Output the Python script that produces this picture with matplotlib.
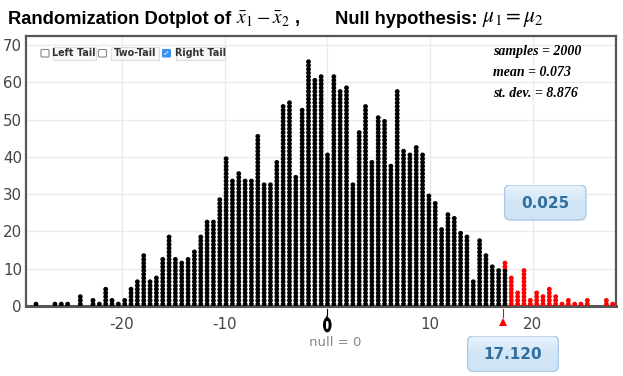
import numpy as np
import matplotlib
matplotlib.use("Agg")
import matplotlib.pyplot as plt
from matplotlib.patches import FancyBboxPatch, Ellipse
from matplotlib.colors import LinearSegmentedColormap
import matplotlib.transforms as mtransforms

# dot counts per bin, left to right
counts = [
    1, 0, 0, 1, 1, 1, 0, 3, 0, 2, 1, 5, 2, 1, 2, 5, 7, 14, 7, 8,
    13, 19, 13, 12, 13, 15, 19, 23, 23, 29,
    40, 34, 36, 34, 34, 46, 33, 33, 39, 54, 55, 35, 53, 66, 61, 62,
    41, 62, 58, 59, 33, 47, 54, 39, 51, 50, 38, 58, 42, 41, 43,
    41, 30, 28, 21, 25, 24, 20, 19, 7, 18, 14, 11, 10, 12, 8, 4, 10,
    2, 4, 3, 5, 3, 1, 2, 1, 1, 2, 0, 0, 2, 1,
]
first_center = -28.35
bin_width = 0.6168
cutoff = 17.12
red_in_cut_bin = 2
null_value = 0

n_samples = 2000
mean_val = 0.073
sd_val = 8.876
p_value = "0.025"

W, H = 623, 376
fig = plt.figure(figsize=(W / 100, H / 100), dpi=100)
plt.rcParams["mathtext.fontset"] = "stix"
title_font = ["Liberation Sans Narrow", "Liberation Sans", "DejaVu Sans"]


def fx(x):
    return x / W


def fy(y):
    return 1 - y / H


ax = fig.add_axes([fx(26), fy(306), fx(616) - fx(26), fy(36) - fy(306)])

centers = first_center + bin_width * np.arange(len(counts))
xs, ys, cols = [], [], []
for c, n in zip(centers, counts):
    in_cut = abs(c - cutoff) < bin_width / 2
    for k in range(n):
        xs.append(c)
        ys.append(k + 0.5)
        if c > cutoff and not in_cut:
            cols.append("#ff0000")
        elif in_cut and k >= n - red_in_cut_bin:
            cols.append("#ff0000")
        else:
            cols.append("black")
ax.scatter(xs, ys, s=12, c=cols, linewidths=0, zorder=3)

ax.set_xlim(-29.32, 28.1)
ax.set_ylim(0, 72.4)
ax.set_xticks([-20, -10, 0, 10, 20])
ax.set_xticklabels(["-20", "-10", "", "10", "20"])
ax.set_yticks(range(0, 71, 10))
ax.grid(True, color="#ebebeb", linewidth=1)
ax.set_axisbelow(True)
ax.tick_params(length=0, labelsize=10.8, colors="#444444")
ax.tick_params(axis="x", pad=8)
ax.tick_params(axis="y", pad=3)
for sp in ax.spines.values():
    sp.set_color("#555555")
    sp.set_linewidth(1.6)
ax.spines["bottom"].set_linewidth(2.2)

trans = mtransforms.blended_transform_factory(ax.transData, ax.transAxes)
# cutoff marker
ax.plot([cutoff, cutoff], [-0.01, -0.04], color="red", lw=0.8, transform=trans, clip_on=False)
ax.plot([cutoff], [-0.06], marker="^", ms=6, color="red", transform=trans, clip_on=False, mew=0)
# null marker
ax.plot([null_value, null_value], [-0.01, -0.035], color="black", lw=0.8, transform=trans, clip_on=False)
ax.plot([null_value], [-0.045], marker="^", ms=4, color="black", transform=trans, clip_on=False, mew=0)
ax.add_patch(Ellipse((null_value, -0.07), 0.7, 0.05, color="black", transform=trans, clip_on=False))
ax.add_patch(Ellipse((null_value, -0.07), 0.12, 0.025, color="white", transform=trans, clip_on=False))
fig.text(fx(335), fy(342), f"null = {null_value}", ha="center", va="center",
         fontsize=9.5, color="#888888")

# title, in pieces so the math can be larger
fig.text(fx(8), fy(19), "Randomization Dotplot of", ha="left", va="center",
         fontsize=13.2, fontweight="bold", family=title_font)
fig.text(fx(236), fy(19), r"$\bar{x}_{\mathit{1}} - \bar{x}_{\mathit{2}}$", ha="left",
         va="center", fontsize=14)
fig.text(fx(295), fy(19), ",", ha="left", va="center",
         fontsize=13.2, fontweight="bold", family=title_font)
fig.text(fx(335), fy(19), "Null hypothesis:", ha="left", va="center",
         fontsize=13.2, fontweight="bold", family=title_font)
fig.text(fx(482), fy(19), r"$\mu_{\mathit{1}} = \mu_{\mathit{2}}$", ha="left",
         va="center", fontsize=15.5)

# stats
stats = [f"samples = {n_samples}", f"mean = {mean_val}", f"st. dev. = {sd_val}"]
for i, s in enumerate(stats):
    fig.text(fx(493), fy(51 + i * 21.3), s, ha="left", va="center", fontsize=10,
             fontweight="bold", fontstyle="italic", family="Liberation Serif")

# tail checkboxes
boxes = [(41, "Left Tail", 52.5, 96, False),
         (98.5, "Two-Tail", 111, 159, False),
         (162.5, "Right Tail", 175.5, 225, True)]
for bx, label, lx0, lx1, checked in boxes:
    fc = "#3b8ff0" if checked else "white"
    ec = "#3b8ff0" if checked else "#888888"
    fig.patches.append(FancyBboxPatch((fx(bx), fy(57)), fx(8), 7.5 / H,
                                      boxstyle="round,pad=0,rounding_size=0.002",
                                      fc=fc, ec=ec, lw=0.8, transform=fig.transFigure))
    if checked:
        fig.text(fx(bx + 4), fy(53), "\u2713", ha="center", va="center",
                 fontsize=6, color="white", fontweight="bold")
    fig.patches.append(FancyBboxPatch((fx(lx0), fy(59.5)), fx(lx1 - lx0), 13 / H,
                                      boxstyle="square,pad=0", fc="#f7f7f7",
                                      ec="#dddddd", lw=0.8, transform=fig.transFigure))
    fig.text(fx((lx0 + lx1) / 2), fy(53), label, ha="center", va="center",
             fontsize=6.9, fontweight="bold", color="#333333")

grad_cmap = LinearSegmentedColormap.from_list("box", ["#eaf3fc", "#d3e6f6", "#cfe3f5"])


def blue_box(x0, y0, x1, y1, text):
    w, h = x1 - x0, y1 - y0
    bax = fig.add_axes([fx(x0), fy(y1), fx(w), h / H])
    bax.set_xlim(0, w)
    bax.set_ylim(0, h)
    bax.axis("off")
    grad = np.linspace(0, 1, 64).reshape(-1, 1)
    im = bax.imshow(grad, aspect="auto", cmap=grad_cmap, extent=[0, w, 0, h],
                    origin="upper")
    patch = FancyBboxPatch((0.5, 0.5), w - 1, h - 1,
                           boxstyle="round,pad=0,rounding_size=6",
                           fc="none", ec="#a8cae8", lw=1)
    bax.add_patch(patch)
    im.set_clip_path(patch)
    bax.text(w / 2, h / 2 - 1, text, ha="center", va="center",
             fontsize=11, fontweight="bold", color="#2f6e9f")


blue_box(504, 184.5, 586.5, 220.5, p_value)
blue_box(467, 335.5, 559, 372, f"{cutoff:.3f}")

fig.savefig("out.png", dpi=100)
